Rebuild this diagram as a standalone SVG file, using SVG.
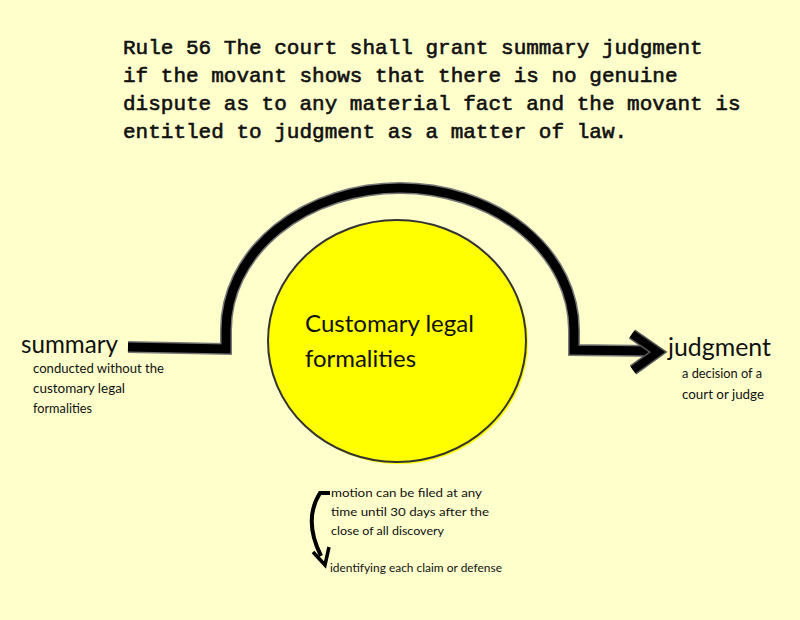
<svg xmlns="http://www.w3.org/2000/svg" width="800" height="620" viewBox="0 0 800 620">
<style>
.title{font-family:"Liberation Mono","Courier New",monospace;font-size:21px;font-weight:normal;fill:#111;stroke:#111;stroke-width:0.6}
.hand{font-family:"Lato","Open Sans",sans-serif;fill:#111}
.big{font-size:25px}
.mid{font-size:24px}
.small{font-size:13px}
.tiny{font-size:12px}
.edge-under{fill:none;stroke:#777;stroke-width:12;stroke-linejoin:miter}
.edge{fill:none;stroke:#000;stroke-width:9;stroke-linejoin:miter}
</style>
<rect width="800" height="620" fill="#FFFFCC"/>
<g id="title">
<text class="title" x="123" y="54">Rule 56 The court shall grant summary judgment</text>
<text class="title" x="123" y="82">if the movant shows that there is no genuine</text>
<text class="title" x="123" y="110">dispute as to any material fact and the movant is</text>
<text class="title" x="123" y="138">entitled to judgment as a matter of law.</text>
</g>
<g id="circle-node">
<ellipse cx="399" cy="343" rx="129" ry="121" fill="#FFFF00"/>
<ellipse cx="397" cy="341" rx="129" ry="121" fill="#FFFF00" stroke="#333" stroke-width="2"/>
<text class="hand mid" x="305" y="332" textLength="169" lengthAdjust="spacingAndGlyphs">Customary legal</text>
<text class="hand mid" x="305" y="367" textLength="111" lengthAdjust="spacingAndGlyphs">formalities</text>
</g>
<g id="summary-node">
<text class="hand big" x="21" y="353" textLength="97" lengthAdjust="spacingAndGlyphs">summary</text>
<text class="hand small" x="33" y="373" textLength="131" lengthAdjust="spacingAndGlyphs">conducted without the</text>
<text class="hand small" x="33" y="393" textLength="92" lengthAdjust="spacingAndGlyphs">customary legal</text>
<text class="hand small" x="33" y="413" textLength="59" lengthAdjust="spacingAndGlyphs">formalities</text>
</g>
<g id="judgment-node">
<text class="hand big" x="668" y="356" textLength="103" lengthAdjust="spacingAndGlyphs">judgment</text>
<text class="hand small" x="682" y="378" textLength="80" lengthAdjust="spacingAndGlyphs">a decision of a</text>
<text class="hand small" x="682" y="399" textLength="82" lengthAdjust="spacingAndGlyphs">court or judge</text>
</g>
<g id="notes">
<text class="hand tiny" x="331" y="497" textLength="151" lengthAdjust="spacingAndGlyphs">motion can be filed at any</text>
<text class="hand tiny" x="331" y="516" textLength="158" lengthAdjust="spacingAndGlyphs">time until 30 days after the</text>
<text class="hand tiny" x="331" y="535" textLength="113" lengthAdjust="spacingAndGlyphs">close of all discovery</text>
<text class="hand tiny" x="330" y="572" textLength="172" lengthAdjust="spacingAndGlyphs">identifying each claim or defense</text>
</g>
<g id="connectors">
<path class="edge-under" d="M128 347 L226 349 L226 330 A174 142 0 0 1 574 330 L574 350 L652 351"/>
<path class="edge" d="M128 347 L226 349 L226 330 A174 142 0 0 1 574 330 L574 350 L652 351"/>
<path d="M632 334 L658 352 L633 370" fill="none" stroke="#555" stroke-width="11"/>
<path d="M632 334 L658 352 L633 370" fill="none" stroke="#000" stroke-width="8"/>
<path d="M330 493 L320 493 Q303 520 321 556" fill="none" stroke="#000" stroke-width="4"/>
<path d="M313 552 L325 565 L329 547" fill="none" stroke="#000" stroke-width="3.5"/>
</g>
</svg>
